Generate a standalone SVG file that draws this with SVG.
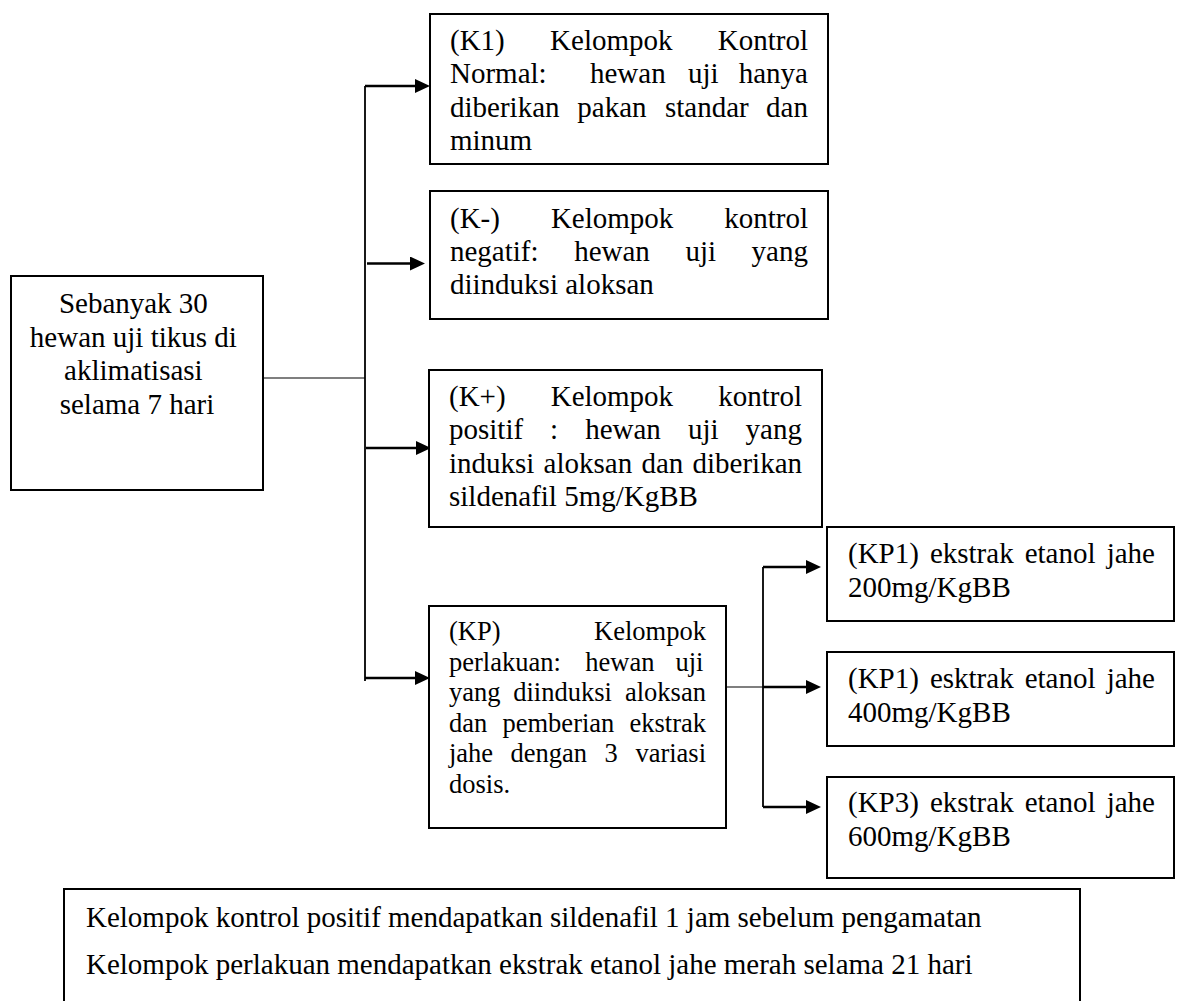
<svg xmlns="http://www.w3.org/2000/svg" width="1180" height="1001" viewBox="0 0 1180 1001">
<defs>
<style>
.box{fill:#fff;stroke:#000;stroke-width:2}
.t{font-family:"Liberation Serif","Times New Roman",serif;font-size:29px;fill:#000}
.ts{font-size:26.5px}
.thin{stroke:#000;stroke-width:1.2;fill:none}
.trunk{stroke:#000;stroke-width:1.8;fill:none}
.arr{stroke:#000;stroke-width:2.7;fill:none;marker-end:url(#ah)}
</style>
<marker id="ah" markerUnits="userSpaceOnUse" markerWidth="16" markerHeight="14" refX="5" refY="7" orient="auto">
<path d="M0,0 L15,7 L0,14 z" fill="#000"/>
</marker>
</defs>
<rect width="1180" height="1001" fill="#fff"/>

<g id="connectors">
<path class="thin" d="M263,378 H365"/>
<path class="trunk" d="M365,86 V681"/>
<path class="arr" d="M365,86 H420"/>
<path class="arr" d="M367,263.5 H415"/>
<path class="arr" d="M366,448 H421"/>
<path class="arr" d="M365,678 H420"/>
<path class="thin" d="M726,687 H763"/>
<path class="trunk" d="M763,567 V807"/>
<path class="arr" d="M763,567 H811"/>
<path class="arr" d="M763,687 H811"/>
<path class="arr" d="M763,807 H811"/>
</g>

<g id="start">
<rect class="box" x="11" y="276" width="252" height="214"/>
<text class="t" text-anchor="middle">
<tspan x="137" y="313">Sebanyak 30</tspan>
<tspan x="137" y="346.5">hewan uji tikus di</tspan>
<tspan x="137" y="380">aklimatisasi</tspan>
<tspan x="137" y="413.5">selama 7 hari</tspan>
</text>
</g>

<g id="k1">
<rect class="box" x="430" y="14" width="398" height="150"/>
<text class="t">
<tspan x="450" y="50">(K1)</tspan><tspan x="550.1" y="50">Kelompok</tspan><tspan x="717.8" y="50">Kontrol</tspan>
<tspan x="450" y="83.3">Normal:</tspan><tspan x="590" y="83.3">hewan</tspan><tspan x="688" y="83.3">uji</tspan><tspan x="738.7" y="83.3">hanya</tspan>
<tspan x="450" y="116.7">diberikan</tspan><tspan x="577.3" y="116.7">pakan</tspan><tspan x="665" y="116.7">standar</tspan><tspan x="766.1" y="116.7">dan</tspan>
<tspan x="450" y="150">minum</tspan>
</text>
</g>

<g id="kneg">
<rect class="box" x="430" y="191" width="398" height="128"/>
<text class="t">
<tspan x="450" y="227.5">(K-)</tspan><tspan x="550.9" y="227.5">Kelompok</tspan><tspan x="724.2" y="227.5">kontrol</tspan>
<tspan x="450" y="260.8">negatif:</tspan><tspan x="574.2" y="260.8">hewan</tspan><tspan x="685.5" y="260.8">uji</tspan><tspan x="751.6" y="260.8">yang</tspan>
<tspan x="450" y="294">diinduksi aloksan</tspan>
</text>
</g>

<g id="kpos">
<rect class="box" x="429" y="370" width="393" height="157"/>
<text class="t">
<tspan x="449" y="406">(K+)</tspan><tspan x="550.7" y="406">Kelompok</tspan><tspan x="718.2" y="406">kontrol</tspan>
<tspan x="449" y="439.3">positif</tspan><tspan x="550.1" y="439.3">:</tspan><tspan x="585.2" y="439.3">hewan</tspan><tspan x="687.9" y="439.3">uji</tspan><tspan x="745.6" y="439.3">yang</tspan>
<tspan x="449" y="472.6">induksi</tspan><tspan x="543.6" y="472.6">aloksan</tspan><tspan x="641.4" y="472.6">dan</tspan><tspan x="692.5" y="472.6">diberikan</tspan>
<tspan x="449" y="506">sildenafil 5mg/KgBB</tspan>
</text>
</g>

<g id="kp">
<rect class="box" x="429" y="606" width="297" height="222"/>
<text class="t ts">
<tspan x="449" y="640">(KP)</tspan><tspan x="594.1" y="640">Kelompok</tspan>
<tspan x="449" y="670.6">perlakuan:</tspan><tspan x="585.3" y="670.6">hewan</tspan><tspan x="675.4" y="670.6">uji</tspan>
<tspan x="449" y="701.2">yang</tspan><tspan x="513.2" y="701.2">diinduksi</tspan><tspan x="625" y="701.2">aloksan</tspan>
<tspan x="449" y="731.8">dan</tspan><tspan x="502.5" y="731.8">pemberian</tspan><tspan x="629.5" y="731.8">ekstrak</tspan>
<tspan x="449" y="762.4">jahe</tspan><tspan x="510.6" y="762.4">dengan</tspan><tspan x="604.6" y="762.4">3</tspan><tspan x="635.4" y="762.4">variasi</tspan>
<tspan x="449" y="793">dosis.</tspan>
</text>
</g>

<g id="kp1">
<rect class="box" x="827" y="527" width="347" height="94"/>
<text class="t">
<tspan x="848" y="563">(KP1)</tspan><tspan x="929.9" y="563">ekstrak</tspan><tspan x="1024.7" y="563">etanol</tspan><tspan x="1106.7" y="563">jahe</tspan>
<tspan x="848" y="597">200mg/KgBB</tspan>
</text>
</g>

<g id="kp2">
<rect class="box" x="827" y="652" width="347" height="94"/>
<text class="t">
<tspan x="848" y="688">(KP1)</tspan><tspan x="929.9" y="688">esktrak</tspan><tspan x="1024.7" y="688">etanol</tspan><tspan x="1106.7" y="688">jahe</tspan>
<tspan x="848" y="722">400mg/KgBB</tspan>
</text>
</g>

<g id="kp3">
<rect class="box" x="827" y="777" width="347" height="101"/>
<text class="t">
<tspan x="848" y="812">(KP3)</tspan><tspan x="929.9" y="812">ekstrak</tspan><tspan x="1024.7" y="812">etanol</tspan><tspan x="1106.7" y="812">jahe</tspan>
<tspan x="848" y="846">600mg/KgBB</tspan>
</text>
</g>

<g id="note">
<rect class="box" x="64" y="889" width="1016" height="130"/>
<text class="t">
<tspan x="86" y="927">Kelompok kontrol positif mendapatkan sildenafil 1 jam sebelum pengamatan</tspan>
<tspan x="86" y="974">Kelompok perlakuan mendapatkan ekstrak etanol jahe merah selama 21 hari</tspan>
</text>
</g>
</svg>
